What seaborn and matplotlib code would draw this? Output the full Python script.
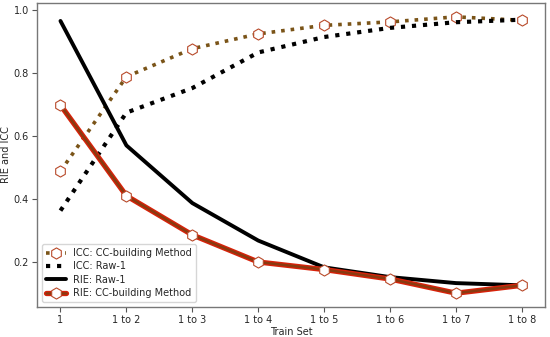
import numpy as np
import pandas as pd
import matplotlib
matplotlib.use('Agg')
import matplotlib.pyplot as plt
from matplotlib.legend_handler import HandlerTuple
import seaborn as sns

# ---- データ ----
train_sets = ['1', '1 to 2', '1 to 3', '1 to 4', '1 to 5', '1 to 6', '1 to 7', '1 to 8']
icc_cc  = [0.488, 0.788, 0.877, 0.924, 0.951, 0.962, 0.978, 0.967]
icc_raw = [0.363, 0.674, 0.752, 0.865, 0.914, 0.943, 0.961, 0.969]
rie_raw = [0.965, 0.570, 0.387, 0.268, 0.183, 0.152, 0.133, 0.126]
rie_cc  = [0.698, 0.410, 0.286, 0.200, 0.176, 0.146, 0.101, 0.126]

sns.set_style('ticks')
plt.rcParams['font.family'] = ['DejaVu Sans']

fig, ax = plt.subplots(figsize=(5.5, 3.37), dpi=100)
x = np.arange(len(train_sets))

brown = '#7a5418'
edge = '#b84a2a'
mk = dict(marker='h', markersize=8, markerfacecolor='white',
          markeredgecolor=edge, markeredgewidth=0.8)

sns.lineplot(x=x, y=icc_cc, ax=ax, color=brown, linestyle=':', linewidth=2.6,
             label='ICC: CC-building Method', **mk)
sns.lineplot(x=x, y=icc_raw, ax=ax, color='black', linestyle=':', linewidth=3,
             label='ICC: Raw-1')
sns.lineplot(x=x, y=rie_raw, ax=ax, color='black', linewidth=2.8,
             label='RIE: Raw-1')
# RIE CC: 赤い太線の上に茶色の線を重ねる
sns.lineplot(x=x, y=rie_cc, ax=ax, color='#d8220a', linewidth=3.8)
sns.lineplot(x=x, y=rie_cc, ax=ax, color='#8a3a10', linewidth=1.8,
             label='RIE: CC-building Method', **mk)

handles, labels = ax.get_legend_handles_labels()
red_line = plt.Line2D([], [], color='#d8220a', linewidth=3.8)
handles[-1] = (red_line, handles[-1])

ax.set_xticks(x)
ax.set_xticklabels(train_sets)
ax.set_yticks([0.2, 0.4, 0.6, 0.8, 1.0])
ax.tick_params(labelsize=7, length=3.5, pad=2.5, color='#555555')
ax.set_xlabel('Train Set', fontsize=7, labelpad=1)
ax.set_ylabel('RIE and ICC', fontsize=7, labelpad=2)
for s in ax.spines.values():
    s.set_color('#777777')
    s.set_linewidth(1.0)

leg = ax.legend(handles, labels, loc='lower left', fontsize=7, frameon=True,
                handlelength=2.0, borderpad=0.4, labelspacing=0.35,
                handler_map={tuple: HandlerTuple(ndivide=1)})
leg.get_frame().set_edgecolor('#cccccc')

fig.subplots_adjust(left=0.068, right=0.991, top=0.991, bottom=0.089)
fig.savefig('out.png', dpi=100)
